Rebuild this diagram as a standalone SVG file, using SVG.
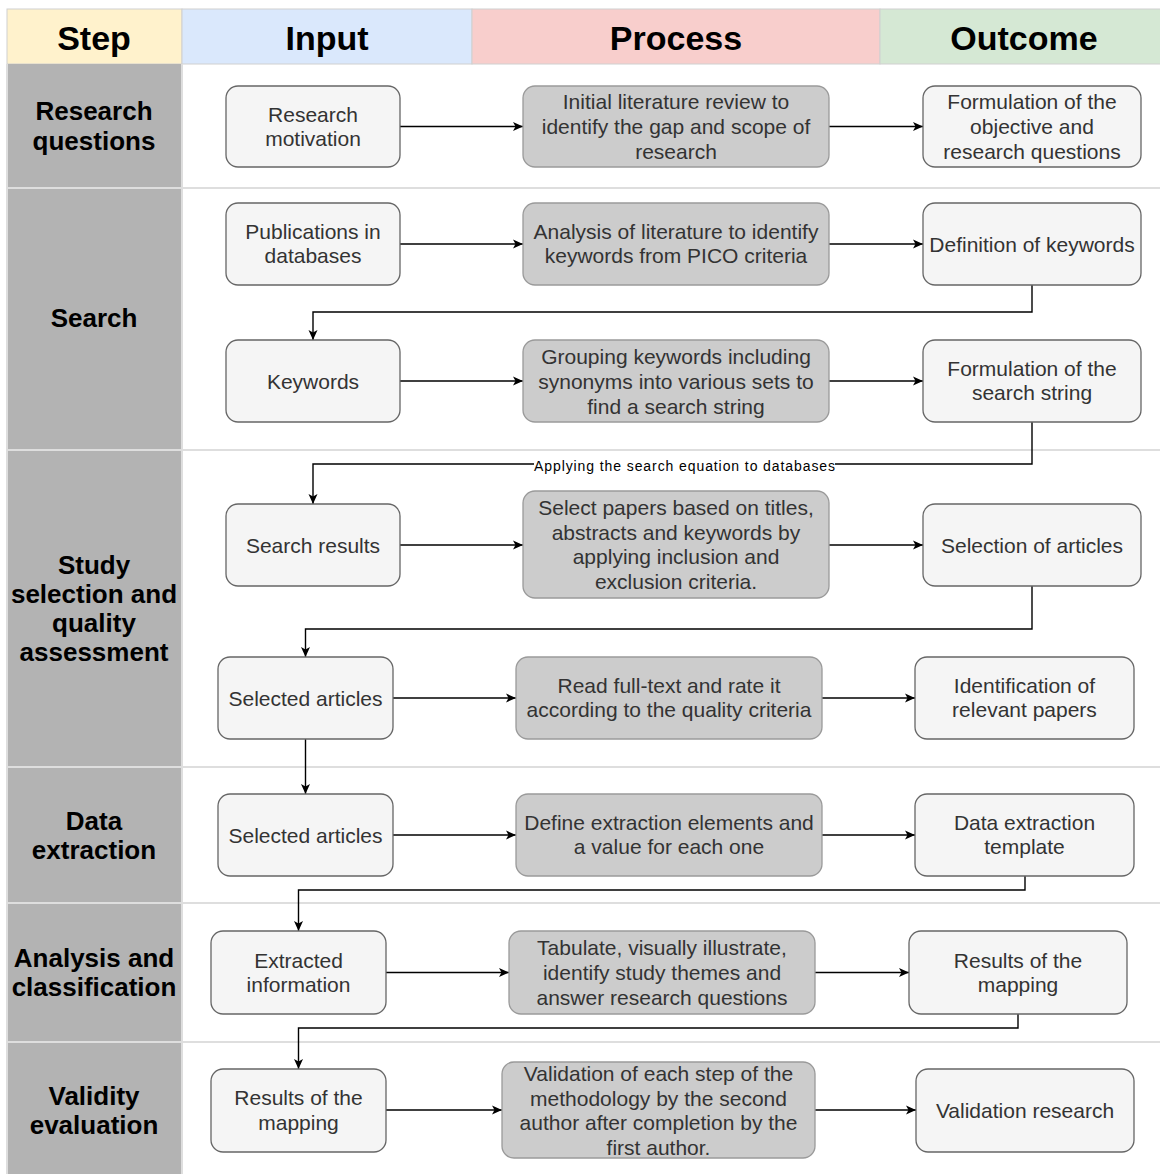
<svg xmlns="http://www.w3.org/2000/svg" width="1160" height="1174" viewBox="0 0 1160 1174">
  <style>
    .hdr { font-family: "Liberation Sans", Arial, sans-serif; font-size: 34px; font-weight: bold; fill: #000; text-anchor: middle; }
    .step { font-family: "Liberation Sans", Arial, sans-serif; font-size: 26px; font-weight: bold; fill: #000; text-anchor: middle; }
    .lbl { font-family: "Liberation Sans", Arial, sans-serif; font-size: 21px; fill: #333; text-anchor: middle; }
    .elbl { font-family: "Liberation Sans", Arial, sans-serif; font-size: 14px; fill: #000; }
    .light { fill: #f5f5f5; stroke: #666; stroke-width: 1.3; }
    .dark { fill: #cccccc; stroke: #9a9a9a; stroke-width: 1.3; }
    .edge { fill: none; stroke: #000; stroke-width: 1.4; marker-end: url(#arrow); }
    .sep { stroke: #dedede; stroke-width: 2; }
  </style>
  <defs>
    <marker id="arrow" markerUnits="userSpaceOnUse" markerWidth="12" markerHeight="10" refX="10" refY="5" orient="auto">
      <path d="M0,0.5 L10,5 L0,9.5 L2.5,5 Z" fill="#000"/>
    </marker>
  </defs>

  <rect width="1160" height="1174" fill="#fff"/>

  <!-- table header -->
  <g id="header">
    <rect x="7" y="9" width="175" height="55" fill="#fff2cc" stroke="#d0d0d0"/>
    <rect x="182" y="9" width="290" height="55" fill="#dae8fc" stroke="#d0d0d0"/>
    <rect x="472" y="9" width="408" height="55" fill="#f8cecc" stroke="#d0d0d0"/>
    <rect x="880" y="9" width="285" height="55" fill="#d5e8d4" stroke="#d0d0d0"/>
    <text class="hdr" x="94" y="50">Step</text>
    <text class="hdr" x="327" y="50">Input</text>
    <text class="hdr" x="676" y="50">Process</text>
    <text class="hdr" x="1024" y="50">Outcome</text>
  </g>

  <!-- step column and row lines -->
  <g id="steps">
    <rect x="7" y="64" width="175" height="1115" fill="#b3b3b3"/>
    <line x1="7" y1="64" x2="7" y2="1174" class="sep"/>
    <line x1="182" y1="64" x2="182" y2="1174" class="sep"/>
    <line x1="7" y1="188" x2="1160" y2="188" class="sep"/>
    <line x1="7" y1="450" x2="1160" y2="450" class="sep"/>
    <line x1="7" y1="767" x2="1160" y2="767" class="sep"/>
    <line x1="7" y1="903" x2="1160" y2="903" class="sep"/>
    <line x1="7" y1="1042" x2="1160" y2="1042" class="sep"/>
    <text class="step" x="94" y="120">Research</text>
    <text class="step" x="94" y="150">questions</text>
    <text class="step" x="94" y="327">Search</text>
    <text class="step" x="94" y="574">Study</text>
    <text class="step" x="94" y="603">selection and</text>
    <text class="step" x="94" y="632">quality</text>
    <text class="step" x="94" y="661">assessment</text>
    <text class="step" x="94" y="830">Data</text>
    <text class="step" x="94" y="859">extraction</text>
    <text class="step" x="94" y="967">Analysis and</text>
    <text class="step" x="94" y="996">classification</text>
    <text class="step" x="94" y="1105">Validity</text>
    <text class="step" x="94" y="1134">evaluation</text>
  </g>

  <!-- connectors -->
  <g id="connectors">
    <path class="edge" d="M400,126.5 H523"/>
    <path class="edge" d="M829,126.5 H923"/>
    <path class="edge" d="M400,244 H523"/>
    <path class="edge" d="M829,244 H923"/>
    <path class="edge" d="M1032,285 V312 H313 V340"/>
    <path class="edge" d="M400,381 H523"/>
    <path class="edge" d="M829,381 H923"/>
    <path class="edge" d="M1032,422 V464 H313 V504"/>
    <rect x="534" y="458" width="301" height="15" fill="#fff"/>
    <text class="elbl" x="534" y="471" textLength="301" lengthAdjust="spacing">Applying the search equation to databases</text>
    <path class="edge" d="M400,545 H523"/>
    <path class="edge" d="M829,545 H923"/>
    <path class="edge" d="M1032,586 V629 H305.5 V657"/>
    <path class="edge" d="M393,698 H516"/>
    <path class="edge" d="M822,698 H915"/>
    <path class="edge" d="M305.5,739 V794"/>
    <path class="edge" d="M393,835 H516"/>
    <path class="edge" d="M822,835 H915"/>
    <path class="edge" d="M1025,876 V890 H298.5 V931"/>
    <path class="edge" d="M386,972.5 H509"/>
    <path class="edge" d="M815,972.5 H909"/>
    <path class="edge" d="M1018,1014 V1028 H298.5 V1069"/>
    <path class="edge" d="M386,1110 H502"/>
    <path class="edge" d="M815,1110 H916"/>
  </g>

  <!-- research questions -->
  <g id="research-motivation">
    <rect class="light" x="226" y="86" width="174" height="81" rx="12"/>
    <text class="lbl" x="313" y="122">Research</text>
    <text class="lbl" x="313" y="146">motivation</text>
  </g>
  <g id="initial-review">
    <rect class="dark" x="523" y="86" width="306" height="81" rx="12"/>
    <text class="lbl" x="676" y="109">Initial literature review to</text>
    <text class="lbl" x="676" y="134">identify the gap and scope of</text>
    <text class="lbl" x="676" y="159">research</text>
  </g>
  <g id="objective">
    <rect class="light" x="923" y="86" width="218" height="81" rx="12"/>
    <text class="lbl" x="1032" y="109">Formulation of the</text>
    <text class="lbl" x="1032" y="134">objective and</text>
    <text class="lbl" x="1032" y="159">research questions</text>
  </g>

  <!-- search -->
  <g id="publications">
    <rect class="light" x="226" y="203" width="174" height="82" rx="12"/>
    <text class="lbl" x="313" y="239">Publications in</text>
    <text class="lbl" x="313" y="263">databases</text>
  </g>
  <g id="analysis-literature">
    <rect class="dark" x="523" y="203" width="306" height="82" rx="12"/>
    <text class="lbl" x="676" y="239">Analysis of literature to identify</text>
    <text class="lbl" x="676" y="263">keywords from PICO criteria</text>
  </g>
  <g id="definition-keywords">
    <rect class="light" x="923" y="203" width="218" height="82" rx="12"/>
    <text class="lbl" x="1032" y="251.5">Definition of keywords</text>
  </g>
  <g id="keywords">
    <rect class="light" x="226" y="340" width="174" height="82" rx="12"/>
    <text class="lbl" x="313" y="388.5">Keywords</text>
  </g>
  <g id="grouping">
    <rect class="dark" x="523" y="340" width="306" height="82" rx="12"/>
    <text class="lbl" x="676" y="364">Grouping keywords including</text>
    <text class="lbl" x="676" y="389">synonyms into various sets to</text>
    <text class="lbl" x="676" y="414">find a search string</text>
  </g>
  <g id="search-string">
    <rect class="light" x="923" y="340" width="218" height="82" rx="12"/>
    <text class="lbl" x="1032" y="376">Formulation of the</text>
    <text class="lbl" x="1032" y="400">search string</text>
  </g>

  <!-- study selection and quality assessment -->
  <g id="search-results">
    <rect class="light" x="226" y="504" width="174" height="82" rx="12"/>
    <text class="lbl" x="313" y="552.5">Search results</text>
  </g>
  <g id="select-papers">
    <rect class="dark" x="523" y="491" width="306" height="107" rx="12"/>
    <text class="lbl" x="676" y="515">Select papers based on titles,</text>
    <text class="lbl" x="676" y="540">abstracts and keywords by</text>
    <text class="lbl" x="676" y="564">applying inclusion and</text>
    <text class="lbl" x="676" y="589">exclusion criteria.</text>
  </g>
  <g id="selection-articles">
    <rect class="light" x="923" y="504" width="218" height="82" rx="12"/>
    <text class="lbl" x="1032" y="552.5">Selection of articles</text>
  </g>
  <g id="selected-articles-1">
    <rect class="light" x="218" y="657" width="175" height="82" rx="12"/>
    <text class="lbl" x="305.5" y="705.5">Selected articles</text>
  </g>
  <g id="read-full-text">
    <rect class="dark" x="516" y="657" width="306" height="82" rx="12"/>
    <text class="lbl" x="669" y="693">Read full-text and rate it</text>
    <text class="lbl" x="669" y="717">according to the quality criteria</text>
  </g>
  <g id="relevant-papers">
    <rect class="light" x="915" y="657" width="219" height="82" rx="12"/>
    <text class="lbl" x="1024.5" y="693">Identification of</text>
    <text class="lbl" x="1024.5" y="717">relevant papers</text>
  </g>

  <!-- data extraction -->
  <g id="selected-articles-2">
    <rect class="light" x="218" y="794" width="175" height="82" rx="12"/>
    <text class="lbl" x="305.5" y="842.5">Selected articles</text>
  </g>
  <g id="define-extraction">
    <rect class="dark" x="516" y="794" width="306" height="82" rx="12"/>
    <text class="lbl" x="669" y="830">Define extraction elements and</text>
    <text class="lbl" x="669" y="854">a value for each one</text>
  </g>
  <g id="extraction-template">
    <rect class="light" x="915" y="794" width="219" height="82" rx="12"/>
    <text class="lbl" x="1024.5" y="830">Data extraction</text>
    <text class="lbl" x="1024.5" y="854">template</text>
  </g>

  <!-- analysis and classification -->
  <g id="extracted-information">
    <rect class="light" x="211" y="931" width="175" height="83" rx="12"/>
    <text class="lbl" x="298.5" y="968">Extracted</text>
    <text class="lbl" x="298.5" y="992">information</text>
  </g>
  <g id="tabulate">
    <rect class="dark" x="509" y="931" width="306" height="83" rx="12"/>
    <text class="lbl" x="662" y="955">Tabulate, visually illustrate,</text>
    <text class="lbl" x="662" y="980">identify study themes and</text>
    <text class="lbl" x="662" y="1005">answer research questions</text>
  </g>
  <g id="mapping-results-1">
    <rect class="light" x="909" y="931" width="218" height="83" rx="12"/>
    <text class="lbl" x="1018" y="968">Results of the</text>
    <text class="lbl" x="1018" y="992">mapping</text>
  </g>

  <!-- validity evaluation -->
  <g id="mapping-results-2">
    <rect class="light" x="211" y="1069" width="175" height="83" rx="12"/>
    <text class="lbl" x="298.5" y="1105">Results of the</text>
    <text class="lbl" x="298.5" y="1130">mapping</text>
  </g>
  <g id="validation-steps">
    <rect class="dark" x="502" y="1062" width="313" height="96" rx="12"/>
    <text class="lbl" x="658.5" y="1081">Validation of each step of the</text>
    <text class="lbl" x="658.5" y="1106">methodology by the second</text>
    <text class="lbl" x="658.5" y="1130">author after completion by the</text>
    <text class="lbl" x="658.5" y="1155">first author.</text>
  </g>
  <g id="validation-research">
    <rect class="light" x="916" y="1069" width="218" height="83" rx="12"/>
    <text class="lbl" x="1025" y="1117.5">Validation research</text>
  </g>
</svg>
